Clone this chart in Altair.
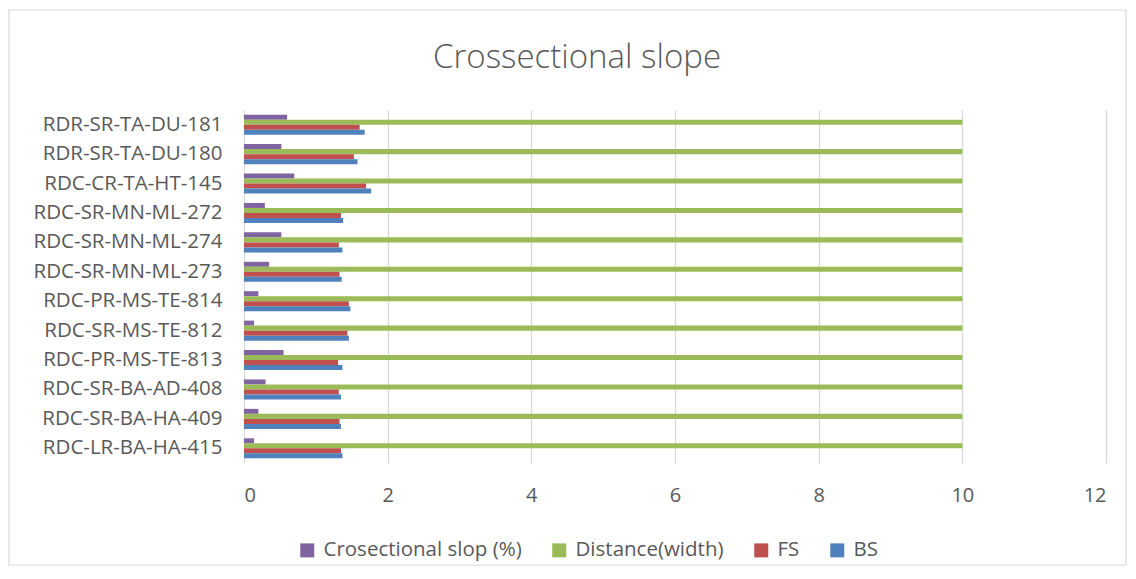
import altair as alt
import pandas as pd

categories = ["RDR-SR-TA-DU-181", "RDR-SR-TA-DU-180", "RDC-CR-TA-HT-145",
              "RDC-SR-MN-ML-272", "RDC-SR-MN-ML-274", "RDC-SR-MN-ML-273",
              "RDC-PR-MS-TE-814", "RDC-SR-MS-TE-812", "RDC-PR-MS-TE-813",
              "RDC-SR-BA-AD-408", "RDC-SR-BA-HA-409", "RDC-LR-BA-HA-415"]
bs = [1.68, 1.58, 1.77, 1.38, 1.37, 1.36, 1.48, 1.46, 1.37, 1.35, 1.35, 1.37]
fs = [1.61, 1.53, 1.70, 1.35, 1.32, 1.33, 1.46, 1.44, 1.31, 1.32, 1.33, 1.35]
distance = [10, 10, 10, 10, 10, 10, 10, 10, 10, 10, 10, 10]
slope = [0.60, 0.52, 0.70, 0.29, 0.52, 0.35, 0.20, 0.14, 0.55, 0.30, 0.20, 0.14]

series_names = ["Crosectional slop (%)", "Distance(width)", "FS", "BS"]
series_colors = ["#8064a2", "#9bbb59", "#c0504d", "#4f81bd"]
series_values = [slope, distance, fs, bs]

rows = []
for name, vals in zip(series_names, series_values):
    for cat, v in zip(categories, vals):
        rows.append({"category": cat, "series": name, "value": v})
df = pd.DataFrame(rows)

FONT = "Open Sans"
TXT = "#595959"
W, H = 862, 353

bars = alt.Chart(df).mark_bar().encode(
    y=alt.Y("category:N", sort=categories,
            scale=alt.Scale(paddingInner=0.32, paddingOuter=0.16),
            axis=alt.Axis(title=None, domain=False, ticks=False, grid=False,
                          labelPadding=22, labelFontSize=20.5, labelFont=FONT,
                          labelColor=TXT, labelLimit=400)),
    yOffset=alt.YOffset("series:N", sort=series_names),
    x=alt.X("value:Q", scale=alt.Scale(domain=[0, 12], nice=False),
            axis=alt.Axis(title=None, values=[0, 2, 4, 6, 8, 10, 12],
                          domain=False, ticks=False, grid=True,
                          gridColor="#d9d9d9", gridWidth=1.3,
                          labelPadding=22, labelFontSize=20, labelFont=FONT,
                          labelColor=TXT, format="d")),
    color=alt.Color("series:N", sort=series_names,
                    scale=alt.Scale(domain=series_names, range=series_colors),
                    legend=alt.Legend(title=None, orient="none", direction="horizontal",
                                      legendX=53, legendY=430,
                                      symbolType="square", symbolSize=196,
                                      symbolStrokeWidth=0, labelFontSize=20.5,
                                      labelFont=FONT, labelColor=TXT,
                                      labelOffset=6, columnPadding=27,
                                      labelLimit=400)),
)

border = alt.Chart(pd.DataFrame({"a": [0]})).mark_rect(
    fillOpacity=0, stroke="#d9d9d9", strokeWidth=1.2
).encode(
    x=alt.value(-235), x2=alt.value(882),
    y=alt.value(-100), y2=alt.value(455),
)

chart = alt.layer(border, bars).properties(
    width=W, height=H,
    background="white",
    title=alt.TitleParams("Crossectional slope", fontSize=33, font=FONT,
                          fontWeight=300, color=TXT, anchor="middle",
                          dx=-98, dy=66, offset=0),
    padding={"left": 236, "top": 102, "right": 22, "bottom": 105},
    autosize=alt.AutoSizeParams(type="none"),
).configure_view(stroke="transparent", strokeWidth=0)

chart.save("out.html", embed_options={"renderer": "svg", "actions": False})
